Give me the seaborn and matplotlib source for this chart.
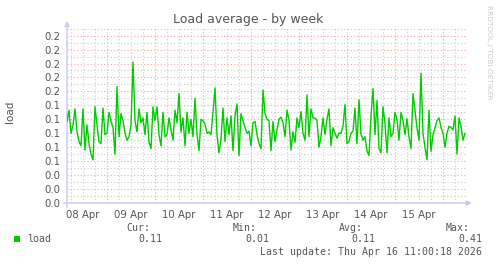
import matplotlib
matplotlib.use("Agg")
import matplotlib.pyplot as plt
import matplotlib.dates as mdates
import matplotlib.ticker as mticker
from matplotlib.patches import Rectangle
import numpy as np
import pandas as pd
import seaborn as sns

# ---------------- data (hourly load average) -------
start_time = "2026-04-08 04:00"
load_part1 = [0.117, 0.133, 0.100, 0.112, 0.135, 0.102, 0.088, 0.082, 0.135, 0.076,
              0.112, 0.085, 0.070, 0.062, 0.138, 0.112, 0.088, 0.085, 0.136, 0.098,
              0.100, 0.130, 0.118, 0.108, 0.070, 0.167, 0.095, 0.128, 0.118, 0.100,
              0.090, 0.095, 0.112, 0.202]
load_part2 = [0.118, 0.102, 0.135, 0.115, 0.122, 0.098, 0.130, 0.088, 0.078, 0.138,
              0.118, 0.138, 0.098, 0.082, 0.130, 0.095, 0.098, 0.122, 0.105, 0.090,
              0.133, 0.115, 0.157, 0.102, 0.122, 0.082, 0.130, 0.100, 0.120, 0.095,
              0.150, 0.098, 0.075, 0.120]
load_part3 = [0.118, 0.113, 0.100, 0.102, 0.098, 0.130, 0.165, 0.098, 0.072, 0.092,
              0.136, 0.088, 0.122, 0.098, 0.125, 0.075, 0.125, 0.142, 0.068, 0.128,
              0.118, 0.108, 0.100, 0.103, 0.082, 0.115, 0.117, 0.098, 0.085, 0.078,
              0.162, 0.128, 0.120]
load_part4 = [0.118, 0.075, 0.117, 0.088, 0.105, 0.120, 0.123, 0.115, 0.095, 0.133,
              0.118, 0.076, 0.102, 0.087, 0.122, 0.108, 0.131, 0.100, 0.090, 0.155,
              0.095, 0.135, 0.122, 0.122, 0.118, 0.080, 0.095, 0.122, 0.098, 0.120,
              0.135, 0.082, 0.108, 0.100]
load_part5 = [0.093, 0.100, 0.100, 0.110, 0.141, 0.085, 0.088, 0.100, 0.103, 0.136,
              0.085, 0.148, 0.098, 0.090, 0.095, 0.075, 0.068, 0.125, 0.164, 0.098,
              0.147, 0.078, 0.072, 0.138, 0.114, 0.072, 0.122, 0.095, 0.100, 0.130,
              0.120, 0.090, 0.130]
load_part6 = [0.118, 0.098, 0.121, 0.095, 0.078, 0.157, 0.133, 0.108, 0.090, 0.186,
              0.100, 0.080, 0.062, 0.133, 0.074, 0.098, 0.108, 0.118, 0.122, 0.108,
              0.100, 0.080, 0.100, 0.110, 0.108, 0.105, 0.125, 0.070, 0.122, 0.110,
              0.090, 0.100]

series_name = "load"
stat_labels = ["Cur:", "Min:", "Avg:", "Max:"]
stat_values = ["0.11", "0.01", "0.11", "0.41"]
title_text = "Load average - by week"
last_update = "Last update: Thu Apr 16 11:00:18 2026"
watermark = "RRDTOOL / TOBI OETIKER"

load_values = load_part1 + load_part2 + load_part3 + load_part4 + load_part5 + load_part6
times = pd.date_range(start_time, periods=len(load_values), freq="h")
df = pd.DataFrame({"time": times, "load": load_values})

# ---------------- figure ---------------------------------------------------
W, H = 497, 264
sns.set_style("white")
plt.rcParams["font.family"] = ["DejaVu Sans"]
fig = plt.figure(figsize=(W / 100, H / 100), dpi=100, facecolor="white")

def fx(x):
    return x / W

def fy(y):
    return 1 - y / H

ax = fig.add_axes([fx(67), 61 / H, 400 / W, 175 / H])
ax.set_facecolor("white")

sns.lineplot(data=df, x="time", y="load", ax=ax, color="#00CC00", linewidth=1.0, zorder=5)

x0 = pd.Timestamp(start_time)
x1 = x0 + pd.Timedelta(hours=200)
ax.set_xlim(x0, x1)
ax.set_ylim(0, 0.2509)

# grid
ax.yaxis.set_major_locator(mticker.MultipleLocator(0.02))
ax.yaxis.set_minor_locator(mticker.MultipleLocator(0.01))
ax.yaxis.set_major_formatter(mticker.FormatStrFormatter("%.1f"))
ax.xaxis.set_major_locator(mdates.DayLocator())
ax.xaxis.set_minor_locator(mdates.HourLocator(byhour=[0, 6, 12, 18]))
ax.xaxis.set_major_formatter(mticker.NullFormatter())

x1_num = mdates.date2num(x1) - 0.01

def minor_fmt(v, pos):
    if v >= x1_num:
        return ""
    d = mdates.num2date(v)
    if d.hour == 12:
        return d.strftime("%d %b")
    return ""

ax.xaxis.set_minor_formatter(mticker.FuncFormatter(minor_fmt))

ax.grid(which="major", color="#ffa0a0", linestyle=(0, (1, 2)), linewidth=0.8, zorder=1)
ax.grid(which="minor", color="#cccccc", linestyle=(0, (1, 2)), linewidth=0.8, zorder=0)

ax.tick_params(axis="y", which="both", length=0, pad=5, labelsize=7.3, labelcolor="#555555")
ax.tick_params(axis="x", which="major", length=2, color="#ffa0a0", width=0.8)
ax.tick_params(axis="x", which="minor", length=2, color="#cccccc", width=0.8,
               pad=3, labelsize=7.3, labelcolor="#555555")
ax.set_xlabel("")
ax.set_ylabel("")
for s in ax.spines.values():
    s.set_visible(False)

# axis lines with arrows
axis_col = "#c8c8f4"
ax.annotate("", xy=(0, 1.04), xytext=(0, -0.025), xycoords="axes fraction",
            arrowprops=dict(arrowstyle="-|>", color=axis_col, lw=1.0, mutation_scale=7,
                            shrinkA=0, shrinkB=0), annotation_clip=False)
ax.annotate("", xy=(1.012, 0), xytext=(-0.01, 0), xycoords="axes fraction",
            arrowprops=dict(arrowstyle="-|>", color=axis_col, lw=1.0, mutation_scale=7,
                            shrinkA=0, shrinkB=0), annotation_clip=False)

# texts
gray = "#555555"
fig.text(fx(248), fy(19.5), title_text, ha="center", va="center", fontsize=9, color=gray)
fig.text(fx(10), fy(112), series_name, ha="center", va="center", rotation=90,
         fontsize=7.5, color=gray)
fig.text(fx(489), fy(5), watermark, ha="center", va="top", rotation=270,
         fontsize=5.3, color="#cccccc")

mono = "DejaVu Sans Mono"
fig.patches.append(Rectangle((fx(14), fy(242)), 6 / W, 6 / H, transform=fig.transFigure,
                             facecolor="#00CC00", edgecolor="none"))
fig.text(fx(27), fy(239.5), series_name, ha="left", va="center", family=mono,
         fontsize=7.1, color=gray)
label_right = [150, 257, 363, 470]
for lab, val, xr in zip(stat_labels, stat_values, label_right):
    fig.text(fx(xr), fy(228), lab, ha="right", va="center", family=mono,
             fontsize=7.1, color=gray)
    fig.text(fx(xr + 12), fy(239.5), val, ha="right", va="center", family=mono,
             fontsize=7.1, color=gray)
fig.text(fx(482), fy(252), last_update, ha="right", va="center", family=mono,
         fontsize=7.1, color=gray)

fig.savefig("out.png", dpi=100, facecolor="white")
